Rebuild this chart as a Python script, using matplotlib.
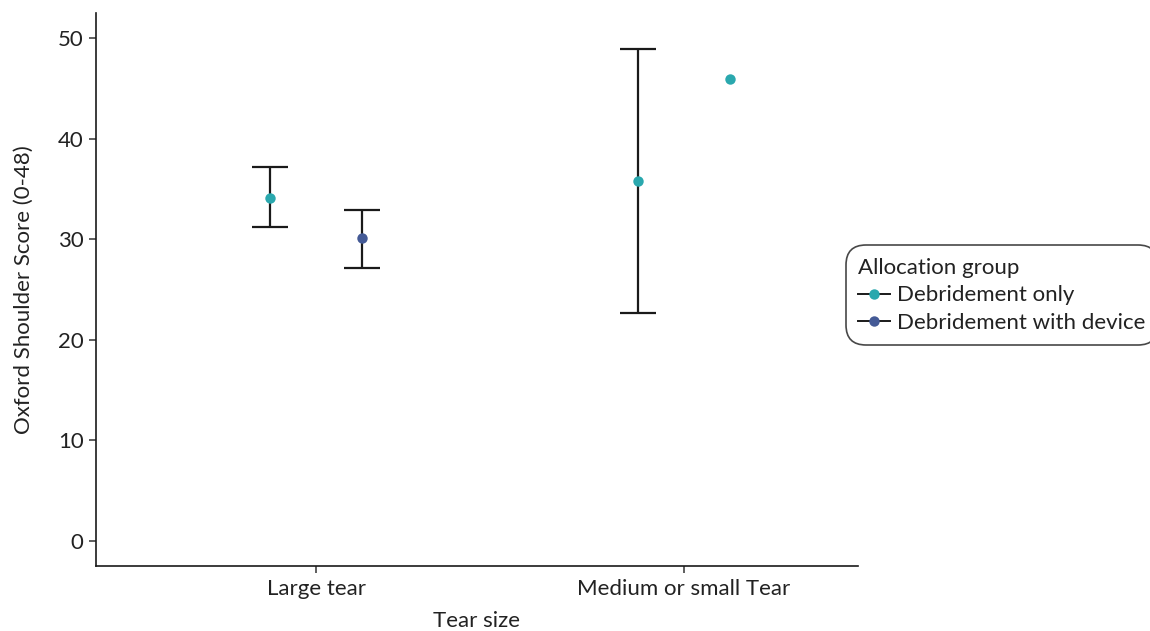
import numpy as np
import matplotlib.pyplot as plt
from matplotlib.lines import Line2D

plt.rcParams['font.family'] = ['Lato', 'DejaVu Sans']

# Mean Oxford Shoulder Score with 95% CI, by tear size and allocation group
tear_sizes = ['Large tear', 'Medium or small Tear']
groups = ['Debridement only', 'Debridement with device']
colors = ['#2aa8ae', '#445a96']

# rows: one per plotted point -> (tear index, dodge side, group index)
pt_tear = [0, 0, 1, 1]
pt_side = [-1, 1, -1, 1]
pt_group = [0, 1, 0, 0]
pt_mean = [34.1, 30.1, 35.8, 46.0]
pt_low = [31.2, 27.2, 22.7, np.nan]
pt_high = [37.2, 32.9, 48.9, np.nan]

dodge = 0.125
cap = 0.048

fig = plt.figure(figsize=(11.5, 6.31), dpi=100)
ax = fig.add_axes([0.0835, 0.103, 0.6625, 0.876])

for t, s, g, m, lo, hi in zip(pt_tear, pt_side, pt_group, pt_mean, pt_low, pt_high):
    x = t + 1 + s * dodge
    if not np.isnan(lo):
        ax.vlines(x, lo, hi, color='#1a1a1a', lw=1.6, zorder=2)
        ax.hlines([lo, hi], x - cap, x + cap, color='#1a1a1a', lw=1.6, zorder=2)
    ax.plot(x, m, 'o', ms=7.5, color=colors[g], mec='none', zorder=3)

ax.set_xlim(0.402, 2.473)
ax.set_ylim(-2.5, 52.5)
ax.set_xticks([1, 2])
ax.set_xticklabels(tear_sizes)
ax.set_yticks([0, 10, 20, 30, 40, 50])
ax.tick_params(labelsize=16, length=5, width=1.1, color='#333333', labelcolor='#222222', pad=4)
ax.set_xlabel('Tear size', fontsize=16, color='#222222', labelpad=9)
ax.set_ylabel('Oxford Shoulder Score (0-48)', fontsize=16, color='#222222', labelpad=17)
for side in ['top', 'right']:
    ax.spines[side].set_visible(False)
for side in ['left', 'bottom']:
    ax.spines[side].set_linewidth(1.2)
    ax.spines[side].set_color('#1a1a1a')

handles = []
for c in colors:
    line = Line2D([], [], color='#1a1a1a', lw=1.4)
    dot = Line2D([], [], marker='o', ls='none', ms=7.5, color=c, mec='none')
    handles.append((line, dot))

leg = fig.legend(handles, groups, title='Allocation group', loc='center left',
                 bbox_to_anchor=(0.7357, 0.5317), fontsize=16, title_fontsize=16,
                 frameon=True, fancybox=True, edgecolor='#1a1a1a',
                 handlelength=1.45, handletextpad=0.3, labelspacing=0.35,
                 borderpad=0.55, borderaxespad=0)
leg._legend_box.align = 'left'
frame = leg.get_frame()
frame.set_linewidth(1.2)
frame.set_boxstyle('round', pad=0, rounding_size=0.9)
leg.get_title().set_color('#222222')
for txt in leg.get_texts():
    txt.set_color('#222222')

fig.savefig('out.png', dpi=100, facecolor='white')
